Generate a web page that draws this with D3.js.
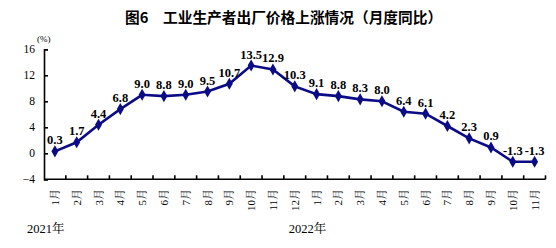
<!DOCTYPE html>
<html>
<head>
<meta charset="utf-8">
<script src="https://cdn.jsdelivr.net/npm/d3@7"></script>
<style>
body { margin: 0; background: #fff; }
</style>
</head>
<body>
<svg width="556" height="248"></svg>
<script>
// months (2021-01 .. 2022-11)
var months = ["1月","2月","3月","4月","5月","6月","7月","8月","9月","10月","11月","12月",
	"1月","2月","3月","4月","5月","6月","7月","8月","9月","10月","11月"];
var values = [0.3,1.7,4.4,6.8,9.0,8.8,9.0,9.5,10.7,13.5,12.9,10.3,
	9.1,8.8,8.3,8.0,6.4,6.1,4.2,2.3,0.9,-1.3,-1.3];
var yTicks = [-4,0,4,8,12,16];
var years = [{label:"2021年", at:0}, {label:"2022年", at:12}];

var serif = "'Liberation Serif', 'DejaVu Serif', 'Noto Serif CJK SC', serif";
var svg = d3.select("svg");
var color = "#0b0b86";

var ids = months.map(function(d,i){ return i; });
var x = d3.scaleBand().domain(ids).range([44,545.5]);
var y = d3.scaleLinear().domain([-4,16]).range([179.3,49.3]);

// title
svg.append("text")
	.attr("x", 125).attr("y", 23)
	.style("font-family", "'Noto Sans CJK SC'")
	.style("font-weight", "bold")
	.style("font-size", "14.7px")
	.text("图6　工业生产者出厂价格上涨情况（月度同比）");

svg.append("text")
	.attr("x", 37).attr("y", 42)
	.style("font-family", serif)
	.style("font-size", "9px")
	.text("(%)");

// y axis
var yAxis = d3.axisLeft(y).tickValues(yTicks).tickSize(-4).tickPadding(9)
	.tickFormat(function(d){ return d < 0 ? "\u2212" + Math.abs(d) : d; });
var yg = svg.append("g").attr("transform","translate(44,0)").call(yAxis);
yg.attr("font-family", null);
yg.select(".domain").attr("stroke","#000").attr("stroke-width",1.6);
yg.selectAll(".tick line").attr("stroke","#000").attr("stroke-width",1.6);
yg.selectAll(".tick text")
	.style("font-family", serif)
	.style("font-size","11.5px").attr("fill","#000");

// x axis: ticks between categories
var bounds = ids.slice(1).map(function(i){ return x(i); }).concat([x.range()[1]]);
var xg = svg.append("g");
xg.append("line")
	.attr("x1", 44).attr("x2", x.range()[1])
	.attr("y1", y(-4)).attr("y2", y(-4))
	.attr("stroke","#000").attr("stroke-width",1.6);
xg.selectAll("line.tk").data(bounds).enter().append("line")
	.attr("class","tk")
	.attr("x1", d=>d).attr("x2", d=>d)
	.attr("y1", y(-4)).attr("y2", y(-4)-4)
	.attr("stroke","#000").attr("stroke-width",1.6);

xg.selectAll("text.mon").data(months).enter().append("text")
	.attr("class","mon")
	.attr("text-anchor","end")
	.attr("transform", function(d,i){
		return "translate(" + (x(i) + x.bandwidth()/2 + 4) + ",189) rotate(-90)";
	})
	.style("font-family", serif)
	.style("font-size","11px")
	.text(d=>d);

svg.selectAll("text.yr").data(years).enter().append("text")
	.attr("class","yr")
	.attr("x", d => x(d.at) - 17)
	.attr("y", 233)
	.style("font-family", serif)
	.style("font-size","12.5px")
	.text(d=>d.label);

// line
var line = d3.line()
	.x(function(d,i){ return x(i) + x.bandwidth()/2; })
	.y(function(d){ return y(d); });

svg.append("path")
	.datum(values)
	.attr("d", line)
	.attr("fill","none")
	.attr("stroke", color)
	.attr("stroke-width", 2.6);

svg.selectAll("path.pt").data(values).enter().append("path")
	.attr("class","pt")
	.attr("d", d3.symbol().type(d3.symbolDiamond).size(42))
	.attr("transform", function(d,i){
		return "translate(" + (x(i) + x.bandwidth()/2) + "," + y(d) + ")";
	})
	.attr("fill", color);

svg.selectAll("text.lbl").data(values).enter().append("text")
	.attr("class","lbl")
	.attr("x", function(d,i){ return x(i) + x.bandwidth()/2; })
	.attr("y", function(d){ return y(d) - 7; })
	.attr("text-anchor","middle")
	.style("font-family", serif)
	.style("font-size","12.5px")
	.style("font-weight","bold")
	.text(d => d.toFixed(1));
</script>
</body>
</html>
